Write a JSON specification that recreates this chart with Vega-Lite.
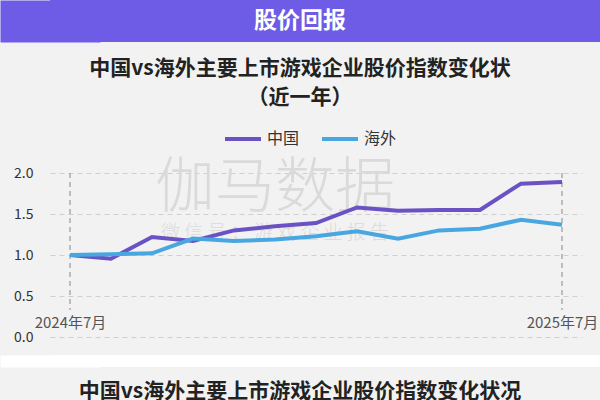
{
  "$schema": "https://vega.github.io/schema/vega-lite/v6.json",
  "background": "#f2f2f2",
  "padding": 0,
  "spacing": 16,
  "resolve": {"legend": {"color": "independent"}, "scale": {"color": "independent"}},
  "config": {
    "font": "Noto Sans CJK SC",
    "view": {"stroke": null},
    "axisX": {
      "labelExpr": "datum.value == '2024-07' ? '2024年7月' : (datum.value == '2025-07' ? '2025年7月' : '')",
      "ticks": false,
      "tickSize": 0,
      "domain": false,
      "grid": false,
      "labelPadding": -22,
      "labelAngle": 0,
      "labelOverlap": false,
      "labelFontSize": 15,
      "labelColor": "#555555",
      "title": null,
      "minExtent": 18
    },
    "axisY": {
      "values": [0, 0.5, 1, 1.5, 2],
      "format": ".1f",
      "grid": true,
      "gridDash": [5, 4],
      "gridColor": "#cfcfcf",
      "gridWidth": 1,
      "domain": false,
      "ticks": false,
      "labelPadding": 17,
      "labelFontSize": 14,
      "labelColor": "#333333",
      "title": null,
      "minExtent": 50
    },
    "legend": {
      "orient": "none",
      "legendX": 173,
      "legendY": -54,
      "direction": "horizontal",
      "symbolType": "stroke",
      "symbolStrokeWidth": 4,
      "symbolSize": 1296,
      "labelFontSize": 16,
      "labelColor": "#333333",
      "labelOffset": 4,
      "columnPadding": 14,
      "title": null
    }
  },
  "vconcat": [
    {
      "width": 550,
      "height": 42,
      "view": {"fill": "#6e5ce6", "stroke": null},
      "data": {"values": [{"t": "股价回报"}]},
      "mark": {"type": "text", "color": "white", "fontSize": 23, "fontWeight": "bold", "baseline": "middle", "dx": -25},
      "encoding": {
        "y": {
          "field": "t",
          "type": "nominal",
          "axis": {"labels": false, "ticks": false, "grid": false, "title": null, "domain": true, "domainColor": "#6e5ce6", "domainWidth": 100, "domainCap": "butt", "offset": 0, "minExtent": 50}
        },
        "text": {"field": "t"}
      }
    },
    {
      "spacing": 0,
      "resolve": {"legend": {"color": "independent"}, "scale": {"color": "independent"}},
      "vconcat": [
        {
          "resolve": {"legend": {"color": "independent"}, "scale": {"color": "independent"}},
          "hconcat": [
            {
              "width": 532,
              "height": 164,
              "title": {
                "text": ["中国vs海外主要上市游戏企业股价指数变化状", "（近一年）"],
                "fontSize": 21,
                "fontWeight": "bold",
                "color": "#222222",
                "lineHeight": 29,
                "anchor": "middle",
                "dx": -16,
                "offset": 11
              },
              "layer": [
                {
                  "data": {"values": [{"month": "2024-12", "label": "伽马数据"}]},
                  "mark": {"type": "text", "fontSize": 60, "fontWeight": 300, "color": "#dadada", "baseline": "middle"},
                  "encoding": {
                    "x": {"field": "month", "type": "ordinal", "scale": {"type": "point", "padding": 0.488}},
                    "y": {"datum": 1.8, "type": "quantitative"},
                    "text": {"field": "label"}
                  }
                },
                {
                  "data": {"values": [{"month": "2024-12", "label": "微 信 号 ： 游 戏 企 业 报 告"}]},
                  "mark": {"type": "text", "fontSize": 19, "fontWeight": 300, "color": "#dadada", "baseline": "middle"},
                  "encoding": {
                    "x": {"field": "month", "type": "ordinal"},
                    "y": {"datum": 1.27, "type": "quantitative"},
                    "text": {"field": "label"}
                  }
                },
                {
                  "data": {"values": [{"month": "2024-07"}, {"month": "2025-07"}]},
                  "mark": {"type": "rule", "color": "#999999", "strokeDash": [5, 4], "strokeWidth": 1.2},
                  "encoding": {
                    "x": {"field": "month", "type": "ordinal"},
                    "y": {"datum": 2.0, "type": "quantitative"},
                    "y2": {"datum": 0.33}
                  }
                },
                {
                  "data": {
                    "values": [
                      {"month": "2024-07", "region": "中国", "value": 1.0},
                      {"month": "2024-08", "region": "中国", "value": 0.955},
                      {"month": "2024-09", "region": "中国", "value": 1.22},
                      {"month": "2024-10", "region": "中国", "value": 1.17},
                      {"month": "2024-11", "region": "中国", "value": 1.3},
                      {"month": "2024-12", "region": "中国", "value": 1.35},
                      {"month": "2025-01", "region": "中国", "value": 1.39},
                      {"month": "2025-02", "region": "中国", "value": 1.58},
                      {"month": "2025-03", "region": "中国", "value": 1.54},
                      {"month": "2025-04", "region": "中国", "value": 1.55},
                      {"month": "2025-05", "region": "中国", "value": 1.55},
                      {"month": "2025-06", "region": "中国", "value": 1.87},
                      {"month": "2025-07", "region": "中国", "value": 1.89},
                      {"month": "2024-07", "region": "海外", "value": 1.0},
                      {"month": "2024-08", "region": "海外", "value": 1.01},
                      {"month": "2024-09", "region": "海外", "value": 1.02},
                      {"month": "2024-10", "region": "海外", "value": 1.2},
                      {"month": "2024-11", "region": "海外", "value": 1.17},
                      {"month": "2024-12", "region": "海外", "value": 1.19},
                      {"month": "2025-01", "region": "海外", "value": 1.23},
                      {"month": "2025-02", "region": "海外", "value": 1.29},
                      {"month": "2025-03", "region": "海外", "value": 1.2},
                      {"month": "2025-04", "region": "海外", "value": 1.3},
                      {"month": "2025-05", "region": "海外", "value": 1.32},
                      {"month": "2025-06", "region": "海外", "value": 1.43},
                      {"month": "2025-07", "region": "海外", "value": 1.37}
                    ]
                  },
                  "mark": {"type": "line", "strokeWidth": 4},
                  "encoding": {
                    "x": {"field": "month", "type": "ordinal"},
                    "y": {"field": "value", "type": "quantitative", "scale": {"domain": [0, 2], "nice": false}},
                    "color": {
                      "field": "region",
                      "type": "nominal",
                      "scale": {"domain": ["中国", "海外"], "range": ["#6a52c4", "#48a6e0"]},
                      "sort": ["中国", "海外"]
                    }
                  }
                }
              ]
            }
          ]
        },
        {
          "width": 550,
          "height": 12,
          "view": {"fill": "white", "stroke": null},
          "data": {"values": [{"t": ""}]},
          "mark": {"type": "text"},
          "encoding": {
            "y": {
              "field": "t",
              "type": "nominal",
              "axis": {"labels": false, "ticks": false, "grid": false, "title": null, "domain": true, "domainColor": "white", "domainWidth": 100, "domainCap": "butt", "offset": 0, "minExtent": 50}
            },
            "text": {"field": "t"}
          },
          "title": {
            "text": "中国vs海外主要上市游戏企业股价指数变化状况",
            "orient": "bottom",
            "fontSize": 21,
            "fontWeight": "bold",
            "color": "#222222",
            "anchor": "middle",
            "dx": -25,
            "offset": 14
          }
        }
      ]
    }
  ]
}
